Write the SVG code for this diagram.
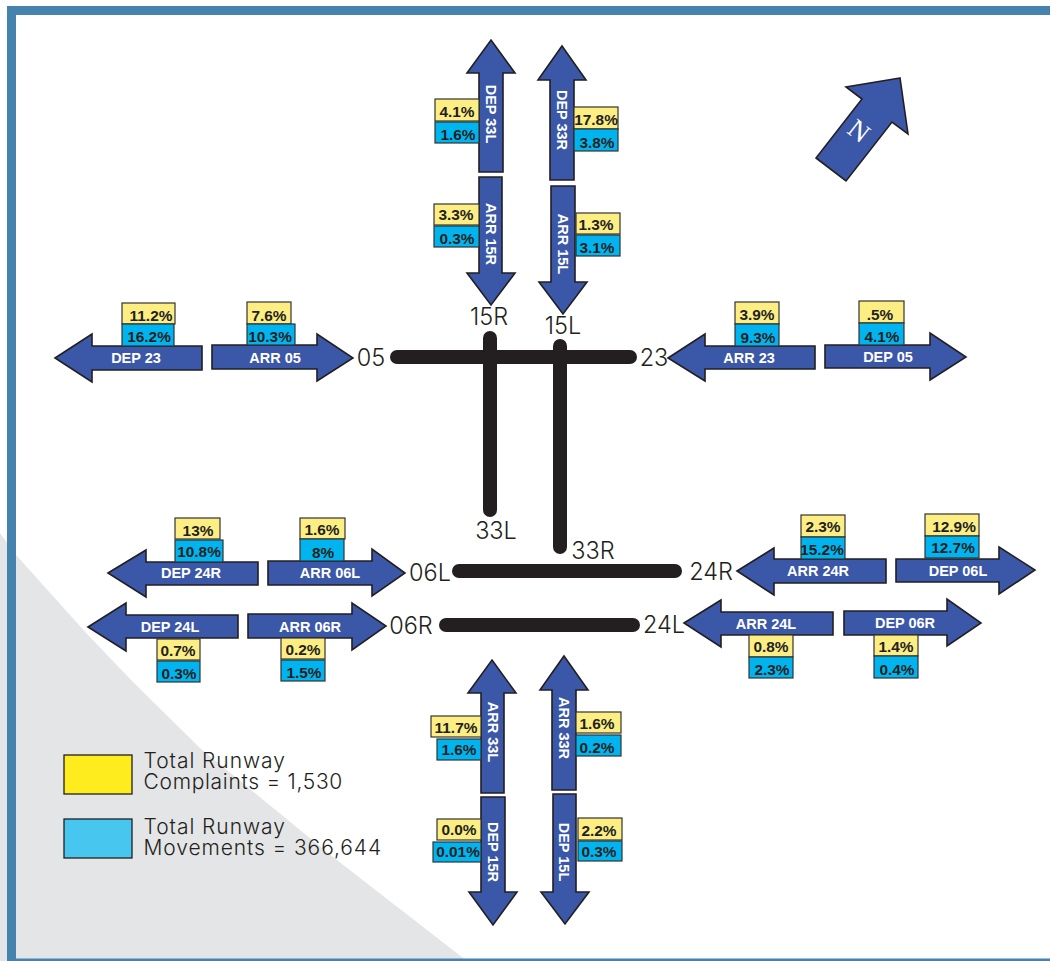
<svg xmlns="http://www.w3.org/2000/svg" width="1050" height="961" viewBox="0 0 1050 961">
<style>
.arrow{fill:#3b57a8;stroke:#231f20;stroke-width:1.6;stroke-linejoin:miter}
.lab{font:bold 14.5px "Liberation Sans",Arial,sans-serif;fill:#fff;text-anchor:middle}
.pct{font:bold 15.4px "Liberation Sans",Arial,sans-serif;fill:#231f20;text-anchor:middle}
.y{fill:#fdee84;stroke:#33322f;stroke-width:1.2}
.b{fill:#00b5ef;stroke:#33322f;stroke-width:1.2}
.rw{stroke:#231f20;stroke-width:14;stroke-linecap:round;fill:none}
.rl{font:23.5px "Inter","Noto Sans",sans-serif;font-weight:300;fill:#231f20;text-anchor:middle}
.lg{font:21px "Inter","Noto Sans",sans-serif;font-weight:300;fill:#231f20}
</style>
<rect width="1050" height="961" fill="#fff"/>
<polygon points="0,533 16,555 88,635 133,682 200,748 333,857 467,961 0,961" fill="#e4e5e7"/>
<g id="frame" fill="#4682ae"><rect x="7" y="6" width="1043" height="9"/><rect x="7" y="6" width="9" height="955"/><rect x="7" y="958.500" width="1043" height="2.500"/></g>

<g id="connectors">
<line class="rw" x1="397" y1="357" x2="630" y2="357"/>
<line class="rw" x1="490" y1="338" x2="490" y2="510"/>
<line class="rw" x1="560" y1="346" x2="560" y2="547"/>
<line class="rw" x1="459" y1="571" x2="675" y2="571"/>
<line class="rw" x1="446" y1="625" x2="633" y2="625"/>
</g>

<g id="runway-labels">
<text class="rl" x="371" y="366">05</text>
<text class="rl" x="654" y="366">23</text>
<text class="rl" x="489" y="325">15R</text>
<text class="rl" x="563" y="334">15L</text>
<text class="rl" x="496" y="539">33L</text>
<text class="rl" x="593" y="559">33R</text>
<text class="rl" x="430" y="581">06L</text>
<text class="rl" x="711" y="580">24R</text>
<text class="rl" x="411" y="634">06R</text>
<text class="rl" x="664" y="633">24L</text>
</g>

<g id="dep-33l"><polygon class="arrow" points="491,40 515,73 503,73 503,172 479,172 479,73 467,73"/><rect class="y" x="435" y="99" width="44" height="22"/><rect class="b" x="435" y="122" width="44" height="21"/><text class="pct" x="457" y="117">4.1%</text><text class="pct" x="458" y="140">1.6%</text><text class="lab" transform="translate(491,114) rotate(90)" y="5">DEP 33L</text></g>
<g id="dep-33r"><polygon class="arrow" points="562,46 586,80 574,80 574,180 550,180 550,80 538,80"/><rect class="y" x="574" y="107" width="44" height="22"/><rect class="b" x="574" y="129" width="44" height="22"/><text class="pct" x="596" y="125">17.8%</text><text class="pct" x="597" y="148">3.8%</text><text class="lab" transform="translate(562,120) rotate(90)" y="5">DEP 33R</text></g>
<g id="arr-15r"><polygon class="arrow" points="479,177 502,177 502,273 515,273 491,305 467,273 479,273"/><rect class="y" x="434" y="204" width="45" height="21"/><rect class="b" x="434" y="226" width="45" height="21"/><text class="pct" x="456" y="220">3.3%</text><text class="pct" x="457" y="244">0.3%</text><text class="lab" transform="translate(491,234) rotate(90)" y="5">ARR 15R</text></g>
<g id="arr-15l"><polygon class="arrow" points="551,186 575,186 575,282 587,282 563,314 539,282 551,282"/><rect class="y" x="576" y="213" width="44" height="21"/><rect class="b" x="576" y="235" width="44" height="21"/><text class="pct" x="596" y="230">1.3%</text><text class="pct" x="597" y="253">3.1%</text><text class="lab" transform="translate(563,244) rotate(90)" y="5">ARR 15L</text></g>

<g id="dep-23"><polygon class="arrow" points="55,358 92,334 92,346 202,346 202,370 92,370 92,382"/><rect class="y" x="122" y="303" width="53" height="21"/><rect class="b" x="122" y="324" width="52" height="22"/><text class="pct" x="151" y="321">11.2%</text><text class="pct" x="149" y="342">16.2%</text><text class="lab" x="136" y="363">DEP 23</text></g>
<g id="arr-05"><polygon class="arrow" points="212,345 317,345 317,334 353,358 317,381 317,369 212,369"/><rect class="y" x="247" y="302" width="44" height="22"/><rect class="b" x="247" y="324" width="48" height="21"/><text class="pct" x="269" y="321">7.6%</text><text class="pct" x="270" y="342">10.3%</text><text class="lab" x="275" y="363">ARR 05</text></g>
<g id="arr-23"><polygon class="arrow" points="668,358 705,334 705,346 815,346 815,369 705,369 705,381"/><rect class="y" x="735" y="302" width="44" height="22"/><rect class="b" x="735" y="324" width="44" height="22"/><text class="pct" x="757" y="320">3.9%</text><text class="pct" x="758" y="343">9.3%</text><text class="lab" x="749" y="363">ARR 23</text></g>
<g id="dep-05"><polygon class="arrow" points="825,345 930,345 930,333 966,357 930,380 930,368 825,368"/><rect class="y" x="859" y="301" width="45" height="22"/><rect class="b" x="859" y="323" width="45" height="22"/><text class="pct" x="880" y="320">.5%</text><text class="pct" x="882" y="342">4.1%</text><text class="lab" x="888" y="362">DEP 05</text></g>

<g id="dep-24r"><polygon class="arrow" points="108,573 146,550 146,562 258,562 258,585 146,585 146,597"/><rect class="y" x="175" y="518" width="45" height="21"/><rect class="b" x="175" y="540" width="48" height="22"/><text class="pct" x="198" y="536">13%</text><text class="pct" x="199" y="557">10.8%</text><text class="lab" x="191" y="578">DEP 24R</text></g>
<g id="arr-06l"><polygon class="arrow" points="268,561 372,561 372,549 405,573 372,596 372,585 268,585"/><rect class="y" x="300" y="518" width="45" height="21"/><rect class="b" x="300" y="539" width="44" height="22"/><text class="pct" x="322" y="535">1.6%</text><text class="pct" x="323" y="558">8%</text><text class="lab" x="330" y="578">ARR 06L</text></g>
<g id="dep-24l"><polygon class="arrow" points="88,627 126,603 126,615 238,615 238,638 126,638 126,651"/><rect class="y" x="157" y="639" width="43" height="21"/><rect class="b" x="157" y="661" width="43" height="21"/><text class="pct" x="178" y="656">0.7%</text><text class="pct" x="179" y="679">0.3%</text><text class="lab" x="170" y="632">DEP 24L</text></g>
<g id="arr-06r"><polygon class="arrow" points="248,614 352,614 352,603 386,626 352,650 352,638 248,638"/><rect class="y" x="281" y="638" width="44" height="21"/><rect class="b" x="281" y="660" width="44" height="21"/><text class="pct" x="303" y="655">0.2%</text><text class="pct" x="304" y="678">1.5%</text><text class="lab" x="310" y="632">ARR 06R</text></g>

<g id="arr-24r"><polygon class="arrow" points="737,571 774,548 774,559 886,559 886,583 774,583 774,595"/><rect class="y" x="801" y="515" width="44" height="22"/><rect class="b" x="801" y="537" width="44" height="22"/><text class="pct" x="823" y="532">2.3%</text><text class="pct" x="822" y="555">15.2%</text><text class="lab" x="818" y="576">ARR 24R</text></g>
<g id="dep-06l"><polygon class="arrow" points="896,559 999,559 999,547 1035,570 999,594 999,582 896,582"/><rect class="y" x="925" y="514" width="54" height="22"/><rect class="b" x="925" y="536" width="54" height="22"/><text class="pct" x="954" y="532">12.9%</text><text class="pct" x="953" y="553">12.7%</text><text class="lab" x="958" y="576">DEP 06L</text></g>
<g id="arr-24l"><polygon class="arrow" points="684,623 721,600 721,612 833,612 833,635 721,635 721,647"/><rect class="y" x="749" y="635" width="44" height="22"/><rect class="b" x="749" y="657" width="44" height="21"/><text class="pct" x="771" y="652">0.8%</text><text class="pct" x="772" y="675">2.3%</text><text class="lab" x="766" y="629">ARR 24L</text></g>
<g id="dep-06r"><polygon class="arrow" points="844,611 947,611 947,599 981,623 947,646 947,635 844,635"/><rect class="y" x="874" y="635" width="44" height="21"/><rect class="b" x="874" y="656" width="44" height="22"/><text class="pct" x="896" y="652">1.4%</text><text class="pct" x="897" y="675">0.4%</text><text class="lab" x="905" y="628">DEP 06R</text></g>

<g id="arr-33l"><polygon class="arrow" points="492,660 516,693 504,693 504,793 481,793 481,693 468,693"/><rect class="y" x="431" y="716" width="50" height="21"/><rect class="b" x="437" y="739" width="44" height="21"/><text class="pct" x="456" y="733">11.7%</text><text class="pct" x="459" y="755">1.6%</text><text class="lab" transform="translate(493,732) rotate(90)" y="5">ARR 33L</text></g>
<g id="arr-33r"><polygon class="arrow" points="564,656 588,690 576,690 576,790 552,790 552,690 540,690"/><rect class="y" x="576" y="712" width="45" height="21"/><rect class="b" x="576" y="735" width="45" height="21"/><text class="pct" x="597" y="729">1.6%</text><text class="pct" x="597" y="753">0.2%</text><text class="lab" transform="translate(564,728) rotate(90)" y="5">ARR 33R</text></g>
<g id="dep-15r"><polygon class="arrow" points="481,797 505,797 505,892 517,892 493,925 469,892 481,892"/><rect class="y" x="437" y="819" width="44" height="21"/><rect class="b" x="433" y="842" width="48" height="20"/><text class="pct" x="459" y="835">0.0%</text><text class="pct" x="458" y="857">0.01%</text><text class="lab" transform="translate(493,852) rotate(90)" y="5">DEP 15R</text></g>
<g id="dep-15l"><polygon class="arrow" points="553,794 576,794 576,892 589,892 565,924 541,892 553,892"/><rect class="y" x="578" y="818" width="44" height="22"/><rect class="b" x="578" y="841" width="44" height="20"/><text class="pct" x="599" y="836">2.2%</text><text class="pct" x="599" y="857">0.3%</text><text class="lab" transform="translate(564,852) rotate(90)" y="5">DEP 15L</text></g>

<g id="north"><polygon class="arrow" points="900,78 846,87 862,99 816,158 846,181 892,122 908,134"/><text transform="translate(859,131) rotate(38)" y="9" text-anchor="middle" font-family="Liberation Serif,serif" font-size="27" fill="#fff">N</text></g>

<g id="legend-complaints"><rect x="64" y="755" width="68" height="39" fill="#ffec1f" stroke="#231f20" stroke-width="1.3"/><text class="lg" x="143.500" y="768" letter-spacing=".95">Total Runway</text><text class="lg" x="143.500" y="789" letter-spacing=".7">Complaints = 1,530</text></g>
<g id="legend-movements"><rect x="64" y="819" width="68" height="39" fill="#47c6f0" stroke="#231f20" stroke-width="1.3"/><text class="lg" x="143.500" y="834" letter-spacing=".95">Total Runway</text><text class="lg" x="143.500" y="855" letter-spacing=".9">Movements = 366,644</text></g>
</svg>
